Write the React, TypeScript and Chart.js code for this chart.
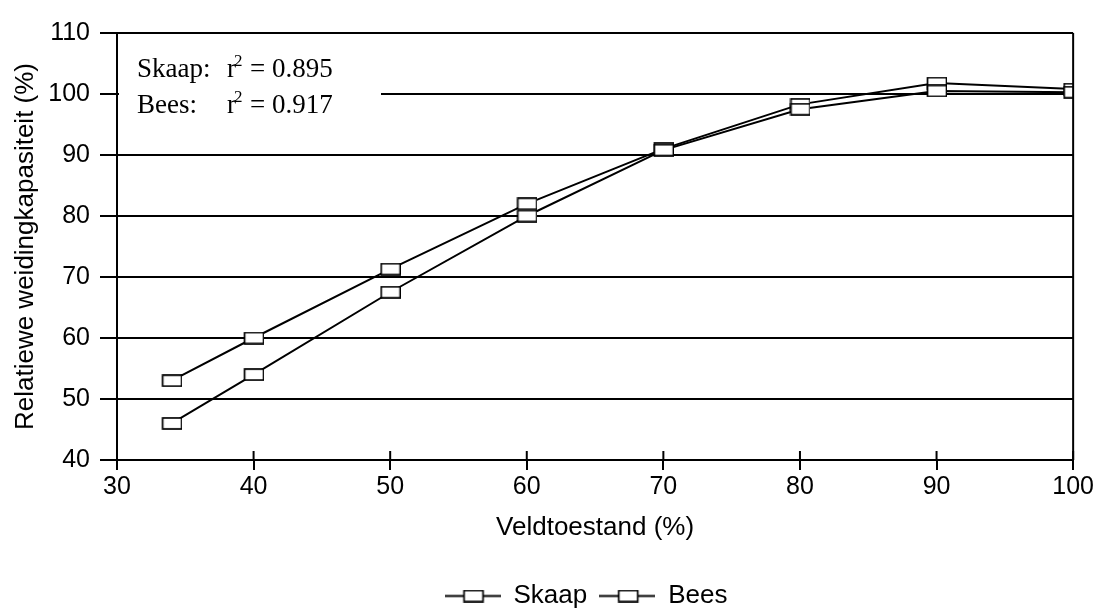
import React, { useEffect, useRef } from "react";
import { Chart, registerables } from "chart.js";

Chart.register(...registerables);

const xValues = [34, 40, 50, 60, 70, 80, 90, 100];
const skaapValues = [46, 54, 67.5, 80, 90.8, 97.5, 100.5, 100.3];
const beesValues = [53, 60, 71.3, 82, 91, 98.3, 101.8, 100.8];
const seriesLabels = ["Skaap", "Bees"];
const r2Names = ["Skaap:", "Bees:"];
const r2Values = ["0.895", "0.917"];
const xTitle = "Veldtoestand (%)";
const yTitle = "Relatiewe weidingkapasiteit (%)";

function makeMarker(lineWidth: number): HTMLCanvasElement {
  const c = document.createElement("canvas");
  const w = lineWidth > 0 ? lineWidth : 21;
  const h = 13;
  c.width = w;
  c.height = h;
  const ctx = c.getContext("2d")!;
  ctx.strokeStyle = "#000";
  if (lineWidth > 0) {
    ctx.lineWidth = 2;
    ctx.beginPath();
    ctx.moveTo(0, h / 2);
    ctx.lineTo(w, h / 2);
    ctx.stroke();
  }
  const rw = 19;
  const rh = 11;
  const rx = Math.round((w - rw) / 2);
  ctx.fillStyle = "#fff";
  ctx.fillRect(rx + 0.5, 1, rw, rh);
  ctx.lineWidth = 1.7;
  ctx.strokeRect(rx + 0.5, 1, rw, rh);
  return c;
}

const frame = {
  id: "frame",
  afterLayout(chart: any) {
    if (chart.legend) {
      chart.legend.left += 38;
      chart.legend.right += 38;
      chart.legend.top += 14;
      chart.legend.bottom += 14;
    }
  },
  afterDraw(chart: any) {
    const { ctx, chartArea } = chart;
    const xs = chart.scales.x;
    const ys = chart.scales.y;
    ctx.save();
    ctx.strokeStyle = "#000";
    ctx.lineWidth = 2;
    ctx.beginPath();
    ctx.moveTo(chartArea.right, chartArea.top);
    ctx.lineTo(chartArea.right, chartArea.bottom);
    ctx.stroke();
    for (let v = 30; v <= 100; v += 10) {
      const px = xs.getPixelForValue(v);
      ctx.beginPath();
      ctx.moveTo(px, chartArea.bottom - 9);
      ctx.lineTo(px, chartArea.bottom);
      ctx.stroke();
    }
    const y100 = ys.getPixelForValue(100);
    ctx.fillStyle = "#fff";
    ctx.fillRect(chartArea.left + 2, y100 - 40, 262, 66);
    ctx.fillStyle = "#000";
    ctx.textBaseline = "alphabetic";
    const serif = "'Liberation Serif', 'Times New Roman', serif";
    const baselines = [y100 - 17, y100 + 19];
    const x0 = chartArea.left + 20;
    for (let i = 0; i < 2; i++) {
      const by = baselines[i];
      ctx.font = "27px " + serif;
      ctx.fillText(r2Names[i], x0, by);
      const rx = x0 + 90;
      ctx.fillText("r", rx, by);
      const rw = ctx.measureText("r").width;
      ctx.font = "17px " + serif;
      ctx.fillText("2", rx + rw - 2, by - 11);
      ctx.font = "27px " + serif;
      ctx.fillText("= " + r2Values[i], rx + 23, by);
    }
    ctx.restore();
  },
};

export default function App() {
  const ref = useRef<HTMLCanvasElement>(null);
  useEffect(() => {
    const pointImg = makeMarker(0);
    const legendImg = makeMarker(56);
    const mk = (vals: number[]) => xValues.map((x, i) => ({ x, y: vals[i] }));
    const sans = "'Liberation Sans', Arial, sans-serif";
    const chart = new Chart(ref.current!, {
      type: "line",
      data: {
        datasets: [
          {
            label: seriesLabels[0],
            data: mk(skaapValues),
            borderColor: "#000",
            borderWidth: 2,
            pointStyle: pointImg as any,
            backgroundColor: "#fff",
          },
          {
            label: seriesLabels[1],
            data: mk(beesValues),
            borderColor: "#000",
            borderWidth: 2,
            pointStyle: pointImg as any,
            backgroundColor: "#fff",
          },
        ],
      },
      options: {
        animation: false,
        responsive: false,
        devicePixelRatio: 1,
        layout: { padding: { top: 33, right: 0, bottom: 6, left: 0 } },
        plugins: {
          tooltip: { enabled: false },
          legend: {
            position: "bottom",
            labels: {
              usePointStyle: true,
              pointStyleWidth: 56,
              color: "#000",
              font: { family: sans, size: 26 },
              padding: 12,
              generateLabels: (c: any) =>
                c.data.datasets.map((d: any, i: number) => ({
                  text: d.label,
                  pointStyle: legendImg,
                  datasetIndex: i,
                  lineWidth: 0,
                  fillStyle: "#fff",
                  strokeStyle: "#000",
                  fontColor: "#000",
                })),
            },
          },
        },
        scales: {
          x: {
            type: "linear",
            min: 30,
            max: 100,
            afterFit: (s: any) => {
              s.height = 97;
            },
            ticks: {
              stepSize: 10,
              color: "#000",
              padding: 2,
              maxRotation: 0,
              font: { family: sans, size: 25 },
            },
            grid: {
              drawOnChartArea: false,
              color: "#000",
              lineWidth: 2,
              tickLength: 10,
            },
            border: { color: "#000", width: 2 },
            title: {
              display: true,
              text: xTitle,
              color: "#000",
              font: { family: sans, size: 26 },
              padding: { top: 0, bottom: 14 },
            },
          },
          y: {
            min: 40,
            max: 110,
            afterFit: (s: any) => {
              s.width = 117;
            },
            ticks: {
              stepSize: 10,
              color: "#000",
              padding: 10,
              font: { family: sans, size: 25 },
            },
            grid: {
              color: "#000",
              lineWidth: 2,
              tickLength: 17,
            },
            border: { color: "#000", width: 2 },
            title: {
              display: true,
              text: yTitle,
              color: "#000",
              font: { family: sans, size: 26 },
              padding: 10,
            },
          },
        },
      },
      plugins: [frame],
    });
    return () => chart.destroy();
  }, []);
  return (
    <div style={{ position: "absolute", left: 0, top: 0, width: 1096, height: 611, background: "#fff" }}>
      <canvas ref={ref} width={1096} height={611} />
    </div>
  );
}
